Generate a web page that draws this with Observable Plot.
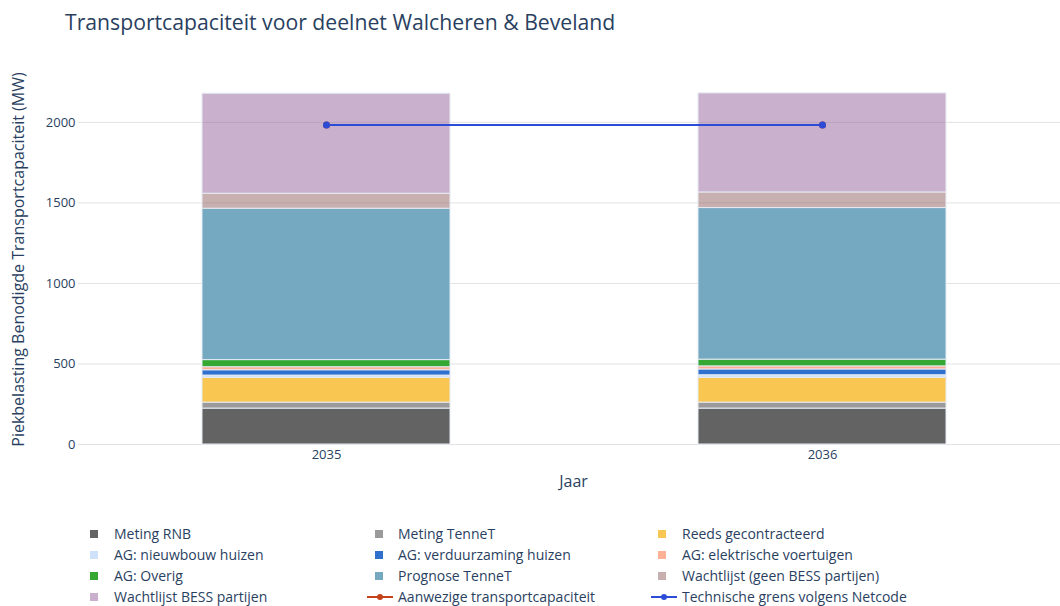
<!DOCTYPE html>
<html>
<head>
<meta charset="utf-8">
<script src="https://cdn.jsdelivr.net/npm/d3@7"></script>
<script src="https://cdn.jsdelivr.net/npm/@observablehq/plot@0.6"></script>
<style>
  body { margin: 0; background: #fff; font-family: "Open Sans", sans-serif; color: #2a3f5f; }
  #wrap { width: 1060px; height: 606px; position: relative; overflow: hidden; }
  #title { height: 60px; line-height: 44px; padding-left: 65px; font-size: 21.2px; color: #2a3f5f; white-space: nowrap; }
  #chart svg { display: block; overflow: visible; }
  #legend { position: relative; height: 106px; font-size: 14px; color: #2a3f5f; }
  .item { position: absolute; height: 20px; display: flex; align-items: center; white-space: nowrap; }
</style>
</head>
<body>
<div id="wrap">
  <div id="title">Transportcapaciteit voor deelnet Walcheren &amp; Beveland</div>
  <div id="chart"></div>
  <div id="legend"></div>
</div>
<script>
// ---- data ----
const years = ["2035", "2036"];
const seriesNames = [
  "Meting RNB",
  "Meting TenneT",
  "Reeds gecontracteerd",
  "AG: nieuwbouw huizen",
  "AG: verduurzaming huizen",
  "AG: elektrische voertuigen",
  "AG: Overig",
  "Prognose TenneT",
  "Wachtlijst (geen BESS partijen)",
  "Wachtlijst BESS partijen"
];
const metingRNB = [223, 223];
const metingTenneT = [37, 37];
const reedsGecontracteerd = [154, 154];
const agNieuwbouw = [14, 16];
const agVerduurzaming = [33, 36];
const agEV = [19, 19];
const agOverig = [44, 42];
const prognoseTenneT = [940, 941];
const wachtlijstGeenBESS = [93, 97];
const wachtlijstBESS = [621, 615];
const aanwezigeCapaciteit = [1983, 1983];
const technischeGrens = [1983, 1983];
const yTicks = [0, 500, 1000, 1500, 2000];
const lineNames = ["Aanwezige transportcapaciteit", "Technische grens volgens Netcode"];

// ---- styles ----
const seriesColors = ["#636363", "#9a9a9a", "#f9c652", "#cfe2f9", "#2f6fce", "#fcb196", "#34a832", "#75a8c1", "#936161", "#93639b"];
const seriesOpacity = [1, 1, 1, 1, 1, 1, 1, 1, 0.5, 0.5];
const lineColors = ["#c4421a", "#2c4bd6"];
const textColor = "#2a3f5f";

const seriesValues = [metingRNB, metingTenneT, reedsGecontracteerd, agNieuwbouw, agVerduurzaming, agEV, agOverig, prognoseTenneT, wachtlijstGeenBESS, wachtlijstBESS];

const rows = [];
years.forEach((year, j) => {
  let acc = 0;
  seriesNames.forEach((name, i) => {
    const v = seriesValues[i][j];
    rows.push({year, series: name, y1: acc, y2: acc + v, op: seriesOpacity[i]});
    acc += v;
  });
});
const lineRows = [];
[aanwezigeCapaciteit, technischeGrens].forEach((arr, k) => {
  years.forEach((year, j) => lineRows.push({year, name: lineNames[k], value: arr[j]}));
});

const opaque = rows.filter(d => d.op === 1);
const translucent = rows.filter(d => d.op !== 1);

const chart = Plot.plot({
  width: 1060,
  height: 440,
  marginTop: 20,
  marginBottom: 56,
  marginLeft: 78,
  marginRight: 0,
  style: {fontFamily: "Open Sans", fontSize: "13px", color: textColor, background: "transparent"},
  x: {domain: years, range: [78, 1070], paddingInner: 0.5, paddingOuter: 0.25, axis: null},
  y: {domain: [0, 2260], axis: null},
  color: {domain: seriesNames, range: seriesColors},
  marks: [
    Plot.gridY(yTicks, {stroke: "#e2e2e2", strokeOpacity: 1, strokeWidth: 1}),
    Plot.barY(opaque, {x: "year", y1: "y1", y2: "y2", fill: "series", stroke: "#e6ebf3", strokeWidth: 1}),
    Plot.barY(translucent, {x: "year", y1: "y1", y2: "y2", fill: "series", fillOpacity: 0.5, stroke: "#e6ebf3", strokeWidth: 1}),
    Plot.axisY(yTicks, {tickSize: 0, tickPadding: 3, fontSize: 13, color: textColor, label: null, tickFormat: d => String(d)}),
    Plot.axisX({tickSize: 0, tickPadding: 5, fontSize: 13, color: textColor, label: null}),
    Plot.line(lineRows, {x: "year", y: "value", z: "name", stroke: d => lineColors[lineNames.indexOf(d.name)], strokeWidth: 2}),
    Plot.dot(lineRows, {x: "year", y: "value", fill: d => lineColors[lineNames.indexOf(d.name)], r: 3.5}),
    Plot.text(["Jaar"], {text: d => d, frameAnchor: "bottom", dy: 37, dx: 4, fontSize: 16, fill: textColor, lineAnchor: "middle"}),
    Plot.text(["Piekbelasting Benodigde Transportcapaciteit (MW)"], {text: d => d, frameAnchor: "left", dx: -60, dy: -3, rotate: -90, fontSize: 16, fill: textColor, textAnchor: "middle", lineAnchor: "middle"})
  ]
});
document.getElementById("chart").appendChild(chart);

// ---- legend ----
const legendEntries = [
  ...seriesNames.map((n, i) => ({name: n, type: "bar", color: seriesColors[i], op: seriesOpacity[i]})),
  ...lineNames.map((n, k) => ({name: n, type: "line", color: lineColors[k]}))
];
const colSwatch = [90, 375, 658];
const colLine = [82, 367, 651];
const colText = [114, 398, 682];
const rowTop = [24, 45, 66, 87];
const legend = document.getElementById("legend");
legendEntries.forEach((e, idx) => {
  const r = Math.floor(idx / 3), c = idx % 3;
  const item = document.createElement("div");
  item.className = "item";
  item.style.top = rowTop[r] + "px";
  item.style.left = "0px";
  let sw;
  if (e.type === "bar") {
    sw = `<svg width="8" height="8" style="position:absolute;left:${colSwatch[c]}px;top:6px"><rect x="0" y="0" width="8" height="8" fill="${e.color}" fill-opacity="${e.op}"/></svg>`;
  } else {
    sw = `<svg width="28" height="10" style="position:absolute;left:${colLine[c]}px;top:5px"><line x1="0" x2="26" y1="5" y2="5" stroke="${e.color}" stroke-width="2"/><circle cx="13" cy="5" r="3" fill="${e.color}"/></svg>`;
  }
  item.innerHTML = sw + `<span style="position:absolute;left:${colText[c]}px;top:0;line-height:20px">${e.name}</span>`;
  legend.appendChild(item);
});
</script>
</body>
</html>
